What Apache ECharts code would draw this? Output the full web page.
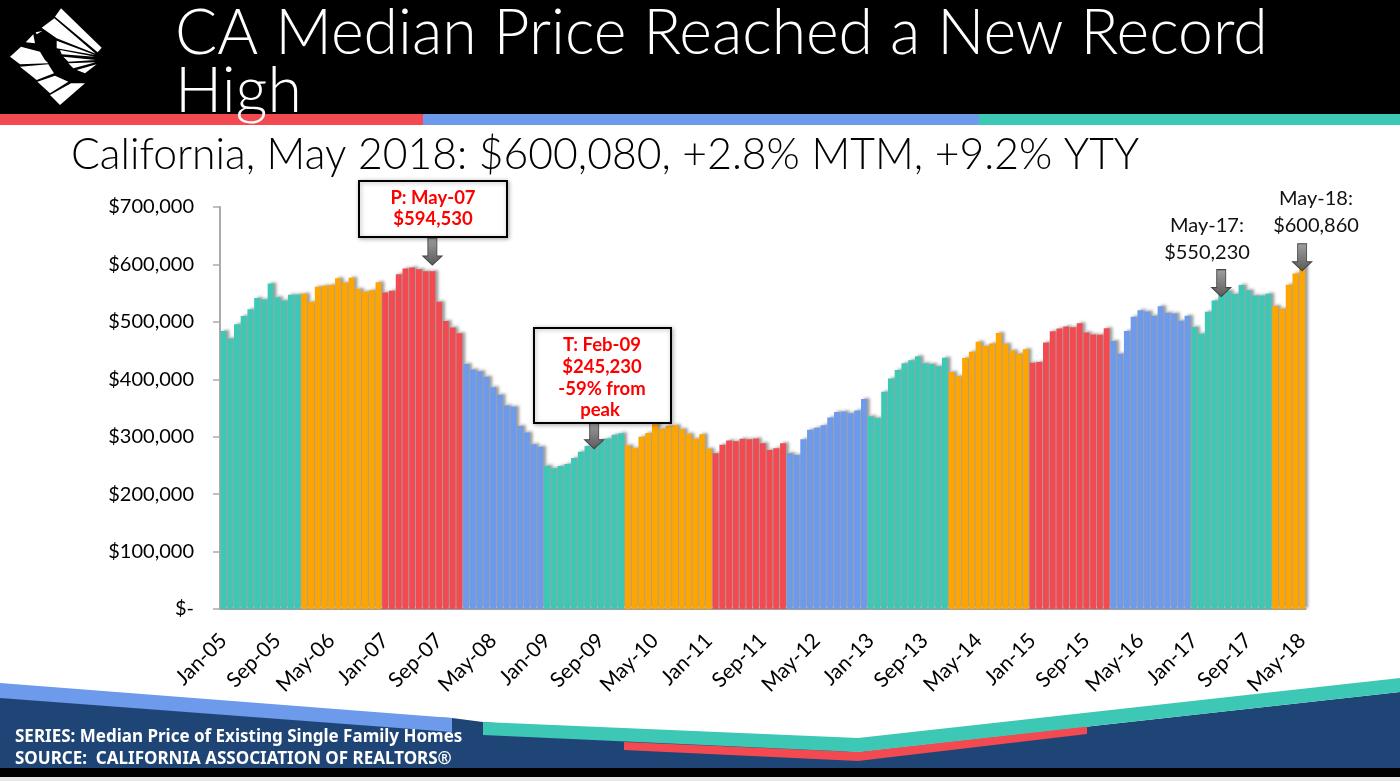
<!DOCTYPE html>
<html>
<head>
    <meta charset="utf-8">
    <title>CA Median Price</title>
    <script src="https://cdn.jsdelivr.net/npm/echarts@6/dist/echarts.min.js"></script>
    <style>html,body{margin:0;padding:0;background:#fff}</style>
</head>
<body>
<div id="main" style="width: 1400px;height:781px;"></div>
<script type="text/javascript">
    var years = ['05','06','07','08','09','10','11','12','13','14','15','16','17','18'];
    var monthNames = ['Jan','Feb','Mar','Apr','May','Jun','Jul','Aug','Sep','Oct','Nov','Dec'];

    // median price, one row per year
    var prices05 = [484000,471000,496000,510000,522000,541500,539000,567000,543000,537000,547000,547500];
    var prices06 = [549000,534500,561000,563000,564000,576000,568000,577000,557000,552500,555000,569000];
    var prices07 = [551000,554000,583000,593000,594530,591500,588000,588000,535000,501500,490000,480000];
    var prices08 = [426500,417000,414000,404500,386000,373000,354500,352000,318500,307500,287000,282500];
    var prices09 = [249500,245230,249000,252500,263000,274000,284000,283000,294000,297000,303500,306000];
    var prices10 = [284500,280000,300000,306500,326000,314000,318500,320000,313500,305000,296500,304500];
    var prices11 = [279000,271000,286000,293500,292000,296500,295500,297000,288500,277000,280000,288500];
    var prices12 = [271000,268000,295500,312000,315500,320000,333500,343000,344000,341000,345500,365500];
    var prices13 = [335500,332500,378500,401500,416000,428000,433000,440000,428000,426500,422500,437500];
    var prices14 = [412500,405500,437000,448000,465500,458000,462500,480500,462000,450000,444500,452500];
    var prices15 = [429000,430000,464000,483500,488500,492000,490500,497500,481500,478000,477500,489000];
    var prices16 = [466500,444500,484000,509000,520000,518000,510500,527000,516000,514500,502000,510500];
    var prices17 = [491000,479500,517500,537000,550230,554000,548500,564000,555000,546000,546000,549000];
    var prices18 = [527500,523000,564500,584000,600860];

    var yTicks = [0,100000,200000,300000,400000,500000,600000,700000];

    // how many bars in a row share a colour
    var bandLengths = [12,12,12,12,12,13,11,12,12,12,12,12,12,5];
    var bandColors = ['#3cc8b4','#ffa500','#f24a50','#6d9aea'];

    var categories = [];
    var prices = [];
    [prices05,prices06,prices07,prices08,prices09,prices10,prices11,prices12,prices13,prices14,prices15,prices16,prices17,prices18].forEach(function (row, y) {
        row.forEach(function (v, m) {
            categories.push(monthNames[m] + '-' + years[y]);
            prices.push(v);
        });
    });

    var barData = [];
    var pos = 0;
    bandLengths.forEach(function (n, b) {
        for (var i = 0; i < n; i++) {
            barData.push({value: prices[pos], itemStyle: {color: bandColors[b % 4]}});
            pos++;
        }
    });

    var arrowPath = 'path://M5,0 H14 V18 H19 L9.5,27 L0,18 H5 Z';
    function arrow(cat, value) {
        return {coord: [cat, value], symbol: arrowPath, symbolSize: [19, 27], symbolOffset: [0, '-50%']};
    }

    var logoPolys = [
        [[168,10],[290,128],[278,142],[150,35]],
        [[110,68],[148,40],[272,146],[155,100]],
        [[155,107],[270,150],[155,130]],
        [[165,135],[270,155],[170,148]],
        [[175,155],[272,165],[190,170]],
        [[190,175],[272,172],[205,190]],
        [[215,195],[275,178],[240,205]],
        [[15,155],[48,125],[105,140],[120,165],[130,175],[45,178]],
        [[45,185],[130,178],[147,205],[95,225]],
        [[97,230],[150,212],[190,230],[135,265]],
        [[135,270],[198,235],[240,235],[165,300]],
        [[62,112],[85,88],[90,115]],
        [[92,82],[112,78],[95,88]]
    ];

    function poly(points, color) {
        return {type: 'polygon', shape: {points: points}, style: {fill: color}, silent: true};
    }
    function rect(x, y, w, h, color) {
        return {type: 'rect', shape: {x: x, y: y, width: w, height: h}, style: {fill: color}, silent: true};
    }
    function note(x, y, text, size, color, weight) {
        return {type: 'text', x: x, y: y, z: 20, silent: true, style: {text: text, fill: color, textAlign: 'center', textVerticalAlign: 'middle',
            font: (weight || 'normal') + ' ' + size + 'px Lato', lineHeight: size * 1.3}};
    }
    function calloutBox(x, y, w, h) {
        return {type: 'rect', z: 15, silent: true, shape: {x: x, y: y, width: w, height: h},
            style: {fill: '#fff', stroke: '#000', lineWidth: 2, shadowBlur: 4, shadowColor: 'rgba(0,0,0,0.3)', shadowOffsetX: 1, shadowOffsetY: 1}};
    }

    var graphics = [
        rect(0, 0, 1400, 114, '#000'),
        rect(0, 114, 423, 11, '#f24a50'),
        rect(423, 114, 556, 11, '#6d9aea'),
        rect(979, 114, 421, 11, '#3cc8b4'),

        poly([[0,697],[452,718],[483,722],[858,752],[1400,692],[1400,768],[0,768]], '#1f4577'),
        poly([[0,683],[452,718],[452,732],[0,698]], '#6d9aea'),
        poly([[624,742],[858,752],[1087,726],[1087,734],[858,761],[624,750]], '#f24a50'),
        poly([[483,722],[858,738],[1400,678],[1400,692],[858,752],[483,735]], '#3cc8b4'),
        rect(0, 768, 1400, 9, '#000'),
        rect(0, 777, 1400, 4, '#e8e8e8'),
        {type: 'text', x: 15, y: 737, silent: true, style: {text: 'SERIES: Median Price of Existing Single Family Homes', fill: '#fff', textVerticalAlign: 'middle', font: 'bold 17px "Noto Sans"'}},
        {type: 'text', x: 15, y: 759, silent: true, style: {text: 'SOURCE:  CALIFORNIA ASSOCIATION OF REALTORS®', fill: '#fff', textVerticalAlign: 'middle', font: 'bold 17px "Noto Sans"'}},

        calloutBox(359, 181, 148, 56),
        note(433, 198, 'P: May-07', 18.5, '#ff0000', 'bold'),
        note(433, 219, '$594,530', 18.5, '#ff0000', 'bold'),
        calloutBox(534, 328, 137, 95),
        note(602, 345, 'T: Feb-09', 18.5, '#ff0000', 'bold'),
        note(602, 367, '$245,230', 18.5, '#ff0000', 'bold'),
        note(602, 389, '-59% from', 18.5, '#ff0000', 'bold'),
        note(600, 410, 'peak', 18.5, '#ff0000', 'bold'),
        note(1207, 226, 'May-17:', 20, '#111'),
        note(1207, 253, '$550,230', 20, '#111'),
        note(1316, 199, 'May-18:', 20, '#111'),
        note(1316, 226, '$600,860', 20, '#111')
    ];
    logoPolys.forEach(function (p) {
        graphics.push(poly(p.map(function (q) { return [q[0] / 3 + 5, q[1] / 3 + 5]; }), '#fff'));
    });

    var chart = echarts.init(document.getElementById('main'), null, {renderer: 'canvas'});
    chart.setOption({
        animation: false,
        backgroundColor: '#fff',
        title: [
            {text: 'CA Median Price Reached a New Record\nHigh', left: 170, top: 0, textStyle: {color: '#fff', fontFamily: 'Lato', fontWeight: 300, fontSize: 62.5, lineHeight: 58}},
            {text: 'California, May 2018: $600,080, +2.8% MTM, +9.2% YTY', left: 66, top: 129, textStyle: {color: '#000', fontFamily: 'Lato', fontWeight: 300, fontSize: 42.7}}
        ],
        grid: {left: 220, right: 94.5, top: 207, bottom: 172},
        xAxis: {
            type: 'category',
            data: categories,
            axisLine: {lineStyle: {color: '#aaa', width: 2}},
            axisTick: {interval: 7, length: 7, lineStyle: {color: '#aaa', width: 1.5}},
            axisLabel: {interval: 7, rotate: 45, color: '#000', fontFamily: 'Lato', fontSize: 21, margin: 28}
        },
        yAxis: {
            type: 'value',
            min: 0,
            max: yTicks[yTicks.length - 1],
            interval: 100000,
            splitLine: {show: false},
            axisLine: {show: true, lineStyle: {color: '#aaa', width: 2}},
            axisTick: {show: true, length: 7, lineStyle: {color: '#aaa', width: 1.5}},
            axisLabel: {
                color: '#000', fontFamily: 'Lato', fontSize: 20, margin: 26,
                formatter: function (v) { return v === 0 ? '$-' : '$' + v.toLocaleString('en-US'); }
            }
        },
        series: [{
            type: 'bar',
            data: barData,
            barCategoryGap: '14%',
            itemStyle: {shadowColor: 'rgba(60,60,60,0.5)', shadowBlur: 3, shadowOffsetX: 3, shadowOffsetY: -1},
            markPoint: {
                silent: true,
                label: {show: false},
                itemStyle: {
                    color: {type: 'linear', x: 0, y: 0, x2: 0, y2: 1, colorStops: [{offset: 0, color: '#a0a0a0'}, {offset: 1, color: '#5a5a5a'}]},
                    borderColor: '#444', borderWidth: 1
                },
                data: [arrow('Aug-07', 599000), arrow('Aug-09', 279000), arrow('May-17', 544000), arrow('May-18', 589000)]
            }
        }],
        graphic: graphics
    });
</script>
</body>
</html>
